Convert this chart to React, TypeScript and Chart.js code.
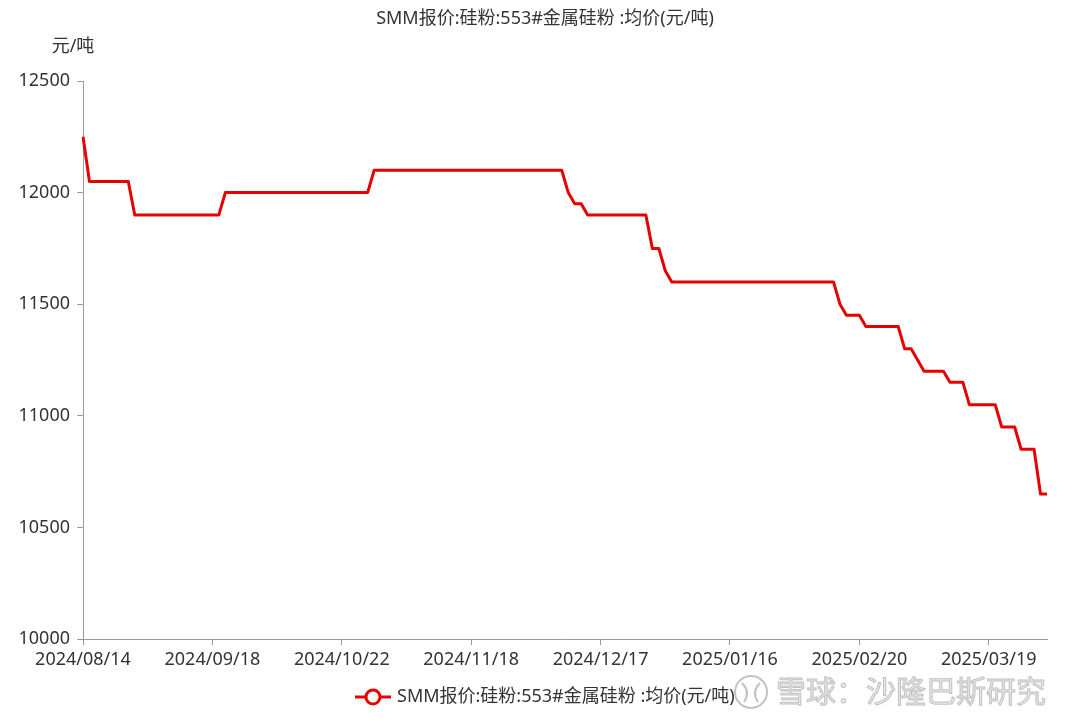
import React, { useEffect, useRef } from "react";
import { Chart, registerables } from "chart.js";

Chart.register(...registerables);

const titleText = "SMM报价:硅粉:553#金属硅粉 :均价(元/吨)";
const seriesName = "SMM报价:硅粉:553#金属硅粉 :均价(元/吨)";
const unitLabel = "元/吨";
const watermarkText = "雪球：沙隆巴斯研究";

const tickLabels = [
  "2024/08/14",
  "2024/09/18",
  "2024/10/22",
  "2024/11/18",
  "2024/12/17",
  "2025/01/16",
  "2025/02/20",
  "2025/03/19",
];
const tickEvery = 20;

const yMin = 10000;
const yMax = 12500;
const yStep = 500;

const prices = [
  12250, 12050, 12050, 12050, 12050, 12050, 12050, 12050, 11900, 11900,
  11900, 11900, 11900, 11900, 11900, 11900, 11900, 11900, 11900, 11900,
  11900, 11900, 12000, 12000, 12000, 12000, 12000, 12000, 12000, 12000,
  12000, 12000, 12000, 12000, 12000, 12000, 12000, 12000, 12000, 12000,
  12000, 12000, 12000, 12000, 12000, 12100, 12100, 12100, 12100, 12100,
  12100, 12100, 12100, 12100, 12100, 12100, 12100, 12100, 12100, 12100,
  12100, 12100, 12100, 12100, 12100, 12100, 12100, 12100, 12100, 12100,
  12100, 12100, 12100, 12100, 12100, 12000, 11950, 11950, 11900, 11900,
  11900, 11900, 11900, 11900, 11900, 11900, 11900, 11900, 11750, 11750,
  11650, 11600, 11600, 11600, 11600, 11600, 11600, 11600, 11600, 11600,
  11600, 11600, 11600, 11600, 11600, 11600, 11600, 11600, 11600, 11600,
  11600, 11600, 11600, 11600, 11600, 11600, 11600, 11500, 11450, 11450,
  11450, 11400, 11400, 11400, 11400, 11400, 11400, 11300, 11300, 11250,
  11200, 11200, 11200, 11200, 11150, 11150, 11150, 11050, 11050, 11050,
  11050, 11050, 10950, 10950, 10950, 10850, 10850, 10850, 10650, 10650,
];

const FONT = "'Noto Sans', 'Noto Sans CJK SC', sans-serif";
const RED = "#e60000";
const AXIS = "#9a9a9a";
const TEXT = "#333333";

const extrasPlugin = {
  id: "extras",
  afterDraw(chart: any) {
    const ctx = chart.ctx as CanvasRenderingContext2D;
    const area = chart.chartArea;
    ctx.save();
    // title
    ctx.font = `18px ${FONT}`;
    ctx.fillStyle = TEXT;
    ctx.textAlign = "center";
    ctx.textBaseline = "middle";
    ctx.fillText(titleText, 545, 19);
    // unit label
    ctx.fillText(unitLabel, area.left - 10, 47);

    // legend
    const ly = 697;
    ctx.strokeStyle = RED;
    ctx.lineWidth = 3;
    ctx.beginPath();
    ctx.moveTo(355, ly);
    ctx.lineTo(391, ly);
    ctx.stroke();
    ctx.beginPath();
    ctx.arc(373, ly, 7, 0, Math.PI * 2);
    ctx.fillStyle = "#ffffff";
    ctx.fill();
    ctx.stroke();
    ctx.fillStyle = TEXT;
    ctx.textAlign = "left";
    ctx.fillText(seriesName, 397, ly);

    // watermark
    ctx.globalAlpha = 0.9;
    ctx.strokeStyle = "#bdbdbd";
    ctx.lineWidth = 2;
    ctx.beginPath();
    ctx.arc(751, 692, 16, 0, Math.PI * 2);
    ctx.stroke();
    ctx.beginPath();
    ctx.moveTo(742, 683);
    ctx.quadraticCurveTo(751, 692, 744, 702);
    ctx.moveTo(760, 683);
    ctx.quadraticCurveTo(751, 692, 758, 702);
    ctx.stroke();
    ctx.font = `30px ${FONT}`;
    ctx.fillStyle = "#e4e4e4";
    ctx.strokeStyle = "#bcbcbc";
    ctx.lineWidth = 1;
    ctx.textAlign = "left";
    ctx.fillText(watermarkText, 776, 693);
    ctx.strokeText(watermarkText, 776, 693);
    ctx.restore();
  },
};

export default function App() {
  const canvasRef = useRef<HTMLCanvasElement | null>(null);

  useEffect(() => {
    document.body.style.margin = "0";
    const canvas = canvasRef.current;
    if (!canvas) return;
    const categories = prices.map((_, i) =>
      i % tickEvery === 0 ? tickLabels[i / tickEvery] : ""
    );
    const chart = new Chart(canvas, {
      type: "line",
      data: {
        labels: categories,
        datasets: [
          {
            label: seriesName,
            data: prices,
            borderColor: RED,
            backgroundColor: RED,
            borderWidth: 3,
            pointRadius: 0,
            pointHoverRadius: 0,
            tension: 0,
            fill: false,
            borderJoinStyle: "round",
          },
        ],
      },
      options: {
        animation: false,
        responsive: false,
        maintainAspectRatio: false,
        layout: { padding: { left: 0, right: 33, top: 81, bottom: 48 } },
        plugins: {
          legend: { display: false },
          title: { display: false },
          tooltip: { enabled: false },
        },
        scales: {
          x: {
            type: "category",
            offset: false,
            grid: {
              display: true,
              drawOnChartArea: false,
              drawTicks: true,
              tickLength: 6,
              color: AXIS,
            },
            border: { display: true, color: AXIS, width: 1 },
            ticks: {
              autoSkip: false,
              maxRotation: 0,
              minRotation: 0,
              padding: 4,
              color: TEXT,
              font: { size: 18, family: FONT },
              callback: function (this: any, value: any) {
                const l = this.getLabelForValue(value);
                return l === "" ? null : l;
              },
            },
            afterFit: (scale: any) => {
              scale.height = 40;
            },
          },
          y: {
            min: yMin,
            max: yMax,
            grid: {
              display: true,
              drawOnChartArea: false,
              drawTicks: true,
              tickLength: 6,
              color: AXIS,
            },
            border: { display: true, color: AXIS, width: 1 },
            ticks: {
              stepSize: yStep,
              padding: 7,
              color: TEXT,
              font: { size: 18, family: FONT },
              callback: (v: any) => String(v),
            },
            afterFit: (scale: any) => {
              scale.width = 83;
            },
          },
        },
      },
      plugins: [extrasPlugin],
    });
    return () => chart.destroy();
  }, []);

  return (
    <div style={{ position: "relative", width: 1080, height: 727 }}>
      <canvas
        ref={canvasRef}
        width={1080}
        height={727}
        style={{ display: "block", width: 1080, height: 727 }}
      />
    </div>
  );
}
